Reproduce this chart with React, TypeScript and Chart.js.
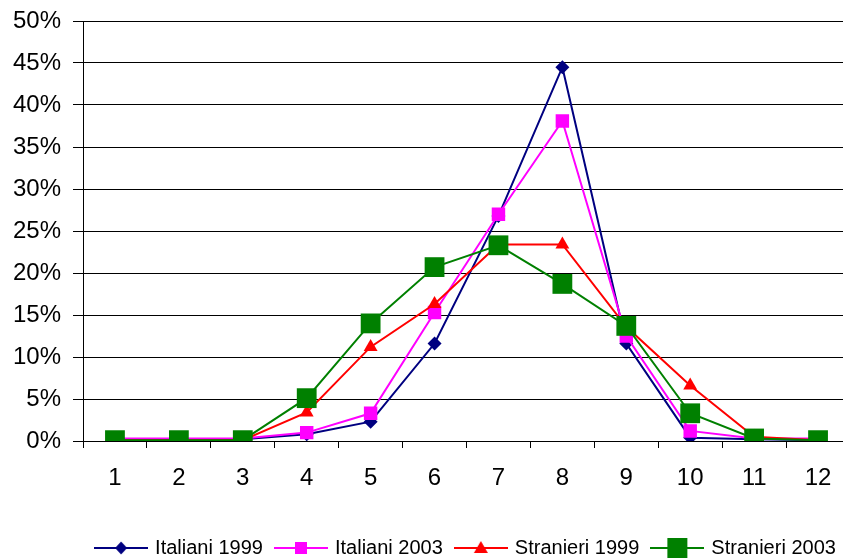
import React, { useEffect, useRef } from "react";
import { Chart, registerables } from "chart.js";

Chart.register(...registerables);

const categories = ["1", "2", "3", "4", "5", "6", "7", "8", "9", "10", "11", "12"];
const seriesNames = ["Italiani 1999", "Italiani 2003", "Stranieri 1999", "Stranieri 2003"];
const italiani1999 = [0.2, 0.2, 0.2, 0.8, 2.3, 11.6, 26.8, 44.5, 11.6, 0.4, 0.2, 0.1];
const italiani2003 = [0.3, 0.3, 0.3, 1.0, 3.3, 15.3, 27.0, 38.1, 12.5, 1.2, 0.3, 0.3];
const stranieri1999 = [0.1, 0.1, 0.1, 3.4, 11.2, 16.3, 23.4, 23.4, 13.6, 6.6, 0.5, 0.1];
const stranieri2003 = [0.1, 0.1, 0.1, 5.1, 14.0, 20.7, 23.3, 18.7, 13.7, 3.3, 0.3, 0.1];
const yTicks = [0, 5, 10, 15, 20, 25, 30, 35, 40, 45, 50];

const colors = ["#000080", "#FF00FF", "#FF0000", "#008000"];
const pointStyles = ["rectRot", "rect", "triangle", "rect"];
const pointRadii = [7, 9.5, 8, 14];

const FONT = "'Liberation Sans', Arial, sans-serif";

function legendImage(i: number): HTMLCanvasElement {
  const c = document.createElement("canvas");
  c.width = 54;
  c.height = 22;
  const ctx = c.getContext("2d")!;
  ctx.strokeStyle = colors[i];
  ctx.lineWidth = 2;
  ctx.beginPath();
  ctx.moveTo(0, 11);
  ctx.lineTo(54, 11);
  ctx.stroke();
  ctx.fillStyle = colors[i];
  const cx = 27, cy = 11;
  ctx.beginPath();
  if (i === 0) {
    ctx.moveTo(cx, cy - 6.5);
    ctx.lineTo(cx + 6, cy);
    ctx.lineTo(cx, cy + 6.5);
    ctx.lineTo(cx - 6, cy);
  } else if (i === 1) {
    ctx.rect(cx - 6, cy - 6, 12, 12);
  } else if (i === 2) {
    ctx.moveTo(cx, cy - 7);
    ctx.lineTo(cx + 7, cy + 5);
    ctx.lineTo(cx - 7, cy + 5);
  } else {
    ctx.rect(cx - 10, cy - 10, 20, 20);
  }
  ctx.closePath();
  ctx.fill();
  return c;
}

export default function App() {
  const ref = useRef<HTMLCanvasElement | null>(null);

  useEffect(() => {
    if (!ref.current) return;
    const seriesData = [italiani1999, italiani2003, stranieri1999, stranieri2003];
    const images = [0, 1, 2, 3].map(legendImage);
    const chart = new Chart(ref.current, {
      type: "line",
      data: {
        labels: categories,
        datasets: seriesData.map((d, i) => ({
          label: seriesNames[i],
          data: d,
          borderColor: colors[i],
          backgroundColor: colors[i],
          borderWidth: 2,
          pointStyle: pointStyles[i] as any,
          pointRadius: pointRadii[i],
          pointBorderWidth: 0,
          pointBackgroundColor: colors[i],
          tension: 0,
          order: 4 - i,
        })),
      },
      options: {
        responsive: false,
        animation: false,
        devicePixelRatio: 1,
        layout: { padding: { top: 21, bottom: 0, left: 0, right: 0 } },
        plugins: {
          tooltip: { enabled: false },
          legend: {
            position: "bottom",
            fullSize: false,
            labels: {
              usePointStyle: true,
              pointStyleWidth: 48,
              padding: 14,
              color: "#000",
              font: { family: FONT, size: 20 },
              generateLabels: () =>
                seriesNames.map((n, i) => ({
                  text: n,
                  fillStyle: colors[i],
                  strokeStyle: colors[i],
                  lineWidth: 0,
                  pointStyle: images[i] as any,
                  hidden: false,
                  datasetIndex: i,
                  fontColor: "#000",
                })),
            },
          },
        },
        scales: {
          x: {
            type: "category",
            offset: true,
            grid: {
              offset: true,
              drawOnChartArea: false,
              drawTicks: true,
              tickLength: 7,
              color: "#000",
              lineWidth: 1,
            },
            border: { color: "#000", width: 1 },
            ticks: {
              color: "#000",
              font: { family: FONT, size: 24 },
              padding: 16,
              maxRotation: 0,
              autoSkip: false,
            },
            afterFit: (s: any) => {
              s.height = 83;
              s.paddingLeft = 0;
              s.paddingRight = 0;
            },
          },
          y: {
            min: 0,
            max: 50,
            afterBuildTicks: (s: any) => {
              s.ticks = yTicks.map((v) => ({ value: v }));
            },
            grid: {
              color: "#000",
              lineWidth: 1,
              tickLength: 10,
            },
            border: { color: "#000", width: 1 },
            ticks: {
              color: "#000",
              font: { family: FONT, size: 24 },
              padding: 12,
              callback: (v: any) => v + "%",
            },
            afterFit: (s: any) => {
              s.width = 83;
              s.paddingTop = 0;
              s.paddingBottom = 0;
            },
          },
        },
      },
    });
    return () => chart.destroy();
  }, []);

  return (
    <div
      style={{
        position: "absolute",
        left: 0,
        top: 0,
        width: 843,
        height: 558,
        overflow: "hidden",
        background: "#fff",
      }}
    >
      <canvas ref={ref} width={864} height={568} style={{ display: "block", width: 864, height: 568 }} />
    </div>
  );
}
